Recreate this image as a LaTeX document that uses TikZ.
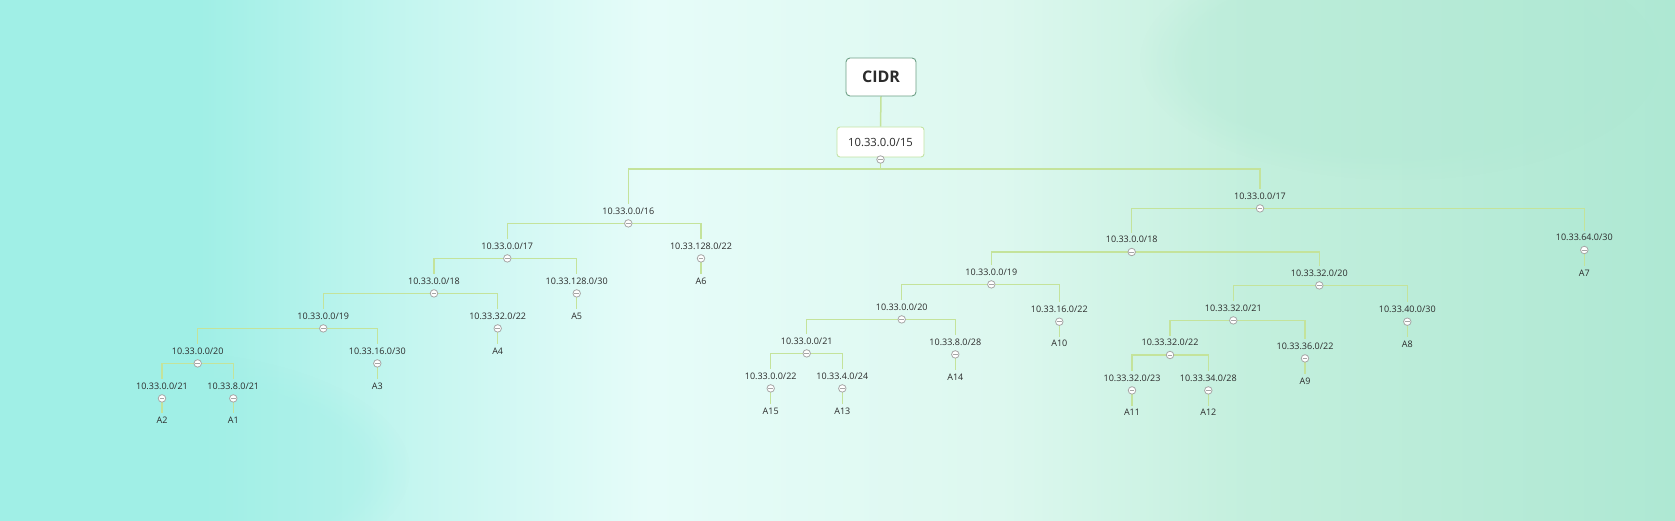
\documentclass[tikz,border=0pt]{standalone}
\usepackage{fontspec}
\setmainfont{Open Sans}
\usetikzlibrary{fadings}
\pgfdeclarelayer{bgl}
\pgfdeclarelayer{lines}
\pgfsetlayers{bgl,lines,main}
\definecolor{bgA}{HTML}{A0EFE6}
\definecolor{bgB}{HTML}{C6F6F0}
\definecolor{bgC}{HTML}{E6FCF9}
\definecolor{bgD}{HTML}{DDF8EF}
\definecolor{bgE}{HTML}{C3EFDD}
\definecolor{bgF}{HTML}{AEE8D3}
\definecolor{linec}{HTML}{C4E39B}
\definecolor{txt}{HTML}{2B2B2B}
\definecolor{circd}{HTML}{A6A6A6}
\definecolor{rootb}{HTML}{6E9F86}
\definecolor{boxb}{HTML}{C3E3A3}
\tikzset{
  lbl/.style={font=\fontsize{9}{10}\selectfont, text=txt, inner sep=1.5pt, text height=7pt, text depth=2pt},
  circ/.style={circle, draw=circd, fill=white, line width=0.8pt, minimum size=7.5pt, inner sep=0pt,
    path picture={\draw[circd, line width=0.8pt] ([xshift=-2.3pt]path picture bounding box.center) -- ([xshift=2.3pt]path picture bounding box.center);}},
  conn/.style={draw=linec, line width=1.5pt, shorten >=1.5pt},
  rootbox/.style={draw=rootb, fill=white, rounded corners=4pt, line width=0.9pt, minimum width=70pt, minimum height=38pt, font=\fontsize{16}{18}\selectfont\bfseries, text=txt},
  subbox/.style={draw=boxb, fill=white, rounded corners=3pt, line width=0.9pt, minimum width=87pt, minimum height=30pt, font=\fontsize{11.3}{13}\selectfont, text=txt}
}
\newcommand\ipnode[4]{\node[lbl] (#1) at (#2,#3) {#4}; \node[circ] (c#1) at (#2,#3+11.7) {};}
\newcommand\leafnode[4]{\node[lbl] (#1) at (#2,#3) {#4};}
\newcommand\kid[2]{\begin{pgfonlayer}{lines}\draw[conn] (c#1.center) -| (#2.north);\end{pgfonlayer}}
\newcommand\leafkid[2]{\begin{pgfonlayer}{lines}\draw[conn] (c#1.center) -- (#2.north);\end{pgfonlayer}}
\begin{document}
\begin{tikzpicture}[x=1pt,y=-1pt]
\useasboundingbox (0,0) rectangle (1675,521);
\begin{pgfonlayer}{bgl}
\shade[left color=bgA, right color=bgA] (0,0) rectangle (200,521);
\shade[left color=bgA, right color=bgB] (199.5,0) rectangle (420,521);
\shade[left color=bgB, right color=bgC] (419.5,0) rectangle (650,521);
\shade[left color=bgC, right color=bgD] (649.5,0) rectangle (1000,521);
\shade[left color=bgD, right color=bgE] (999.5,0) rectangle (1250,521);
\shade[left color=bgE, right color=bgF] (1249.5,0) rectangle (1675,521);
\fill[bgA, opacity=0.35, path fading=circle with fuzzy edge 20 percent] (150,470) ellipse (260 and 120);
\fill[bgF, opacity=0.3, path fading=circle with fuzzy edge 20 percent] (1400,60) ellipse (260 and 120);
\end{pgfonlayer}

% root
\node[rootbox] (cidr) at (881,77) {CIDR};
\node[subbox] (n15) at (880.5,142) {10.33.0.0/15};
\node[circ] (cn15) at (880.5,159.5) {};
\coordinate (j15) at (880.5,169);

% left subtree
\ipnode{L16}{628.3}{211.7}{10.33.0.0/16}
\ipnode{L17}{507.3}{246.7}{10.33.0.0/17}
\ipnode{L128x22}{701}{246.7}{10.33.128.0/22}
\ipnode{L18}{434}{281.7}{10.33.0.0/18}
\ipnode{L128x30}{576.7}{281.7}{10.33.128.0/30}
\ipnode{L19}{323.3}{316.7}{10.33.0.0/19}
\ipnode{L32x22}{497.7}{316.7}{10.33.32.0/22}
\ipnode{L20}{197.7}{351.7}{10.33.0.0/20}
\ipnode{L16x30}{377.3}{351.7}{10.33.16.0/30}
\ipnode{L21}{162}{386.7}{10.33.0.0/21}
\ipnode{L8x21}{233.3}{386.7}{10.33.8.0/21}
\leafnode{A6}{701}{281.7}{A6}
\leafnode{A5}{576.7}{316.7}{A5}
\leafnode{A4}{497.7}{351.7}{A4}
\leafnode{A3}{377.3}{386.7}{A3}
\leafnode{A2}{162}{421}{A2}
\leafnode{A1}{233.3}{421}{A1}

% right subtree
\ipnode{R17}{1260}{196.7}{10.33.0.0/17}
\ipnode{R64x30}{1584.3}{238.3}{10.33.64.0/30}
\ipnode{R18}{1131.7}{240.3}{10.33.0.0/18}
\ipnode{R19}{991.3}{272.7}{10.33.0.0/19}
\ipnode{R32x20}{1319.3}{273.7}{10.33.32.0/20}
\ipnode{R20}{901.7}{307.7}{10.33.0.0/20}
\ipnode{R16x22}{1059.3}{310}{10.33.16.0/22}
\ipnode{R32x21}{1233.3}{308.7}{10.33.32.0/21}
\ipnode{R40x30}{1407.3}{310}{10.33.40.0/30}
\ipnode{R21}{806.7}{341.7}{10.33.0.0/21}
\ipnode{R8x28}{955.3}{342.7}{10.33.8.0/28}
\ipnode{R32x22}{1170}{343.3}{10.33.32.0/22}
\ipnode{R36x22}{1305}{346.7}{10.33.36.0/22}
\ipnode{R0x22}{770.7}{376.7}{10.33.0.0/22}
\ipnode{R4x24}{842.3}{376.7}{10.33.4.0/24}
\ipnode{R32x23}{1132}{378.7}{10.33.32.0/23}
\ipnode{R34x28}{1208.3}{378.7}{10.33.34.0/28}
\leafnode{A7}{1584.3}{274}{A7}
\leafnode{A10}{1059.3}{344.3}{A10}
\leafnode{A8}{1407.3}{345}{A8}
\leafnode{A14}{955.3}{377.7}{A14}
\leafnode{A9}{1305}{381.7}{A9}
\leafnode{A15}{770.7}{412}{A15}
\leafnode{A13}{842.3}{412}{A13}
\leafnode{A11}{1132}{413.3}{A11}
\leafnode{A12}{1208.3}{413.3}{A12}

% connectors
\begin{pgfonlayer}{lines}
\draw[conn, shorten >=0pt] (cidr.south) -- (n15.north);
\draw[conn] (cn15.center) -- (j15) -| (L16.north);
\draw[conn] (j15) -| (R17.north);
\end{pgfonlayer}
\kid{L16}{L17}\kid{L16}{L128x22}
\kid{L17}{L18}\kid{L17}{L128x30}
\kid{L18}{L19}\kid{L18}{L32x22}
\kid{L19}{L20}\kid{L19}{L16x30}
\kid{L20}{L21}\kid{L20}{L8x21}
\leafkid{L128x22}{A6}\leafkid{L128x30}{A5}\leafkid{L32x22}{A4}
\leafkid{L16x30}{A3}\leafkid{L21}{A2}\leafkid{L8x21}{A1}
\kid{R17}{R18}\kid{R17}{R64x30}
\kid{R18}{R19}\kid{R18}{R32x20}
\kid{R19}{R20}\kid{R19}{R16x22}
\kid{R32x20}{R32x21}\kid{R32x20}{R40x30}
\kid{R20}{R21}\kid{R20}{R8x28}
\kid{R32x21}{R32x22}\kid{R32x21}{R36x22}
\kid{R21}{R0x22}\kid{R21}{R4x24}
\kid{R32x22}{R32x23}\kid{R32x22}{R34x28}
\leafkid{R64x30}{A7}\leafkid{R16x22}{A10}\leafkid{R40x30}{A8}
\leafkid{R8x28}{A14}\leafkid{R36x22}{A9}\leafkid{R0x22}{A15}
\leafkid{R4x24}{A13}\leafkid{R32x23}{A11}\leafkid{R34x28}{A12}
\end{tikzpicture}
\end{document}
